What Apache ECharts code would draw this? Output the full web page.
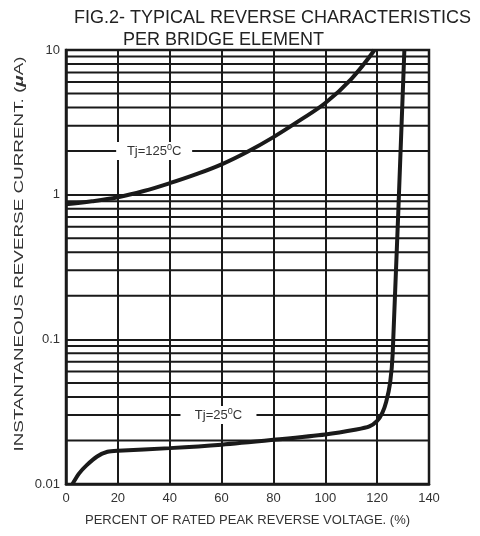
<!DOCTYPE html>
<html>
<head>
<meta charset="utf-8">
<script src="https://cdn.jsdelivr.net/npm/echarts@6/dist/echarts.min.js"></script>
<style>
  html, body { margin: 0; padding: 0; background: #fff; }
  #chart { width: 480px; height: 536px; }
</style>
</head>
<body>
<div id="chart"></div>
<script>
// x ticks / y tick labels
var xTicks = [0, 20, 40, 60, 80, 100, 120, 140];
var yTickLabels = ["0.01", "0.1", "1", "10"];

// Tj = 125 C curve  [percent, uA]
var hotX = [0, 10, 20, 30, 40, 50, 60, 70, 80, 90, 100, 110, 119];
var hotY = [0.86, 0.9, 0.96, 1.06, 1.2, 1.38, 1.62, 1.98, 2.5, 3.25, 4.3, 6.3, 10];

// Tj = 25 C curve
var coldX = [2.5, 5, 8, 12, 16, 20, 40, 60, 80, 100, 112, 117, 120, 122, 123.5, 125, 126, 130.5];
var coldY = [0.01, 0.0118, 0.0135, 0.0155, 0.0167, 0.017, 0.0177, 0.0187, 0.0202, 0.022, 0.0238, 0.025, 0.0273, 0.031, 0.037, 0.05, 0.08, 10];

// minor horizontal grid values (log paper)
var minorGrid = [0.02, 0.03, 0.04, 0.05, 0.06, 0.07, 0.08, 0.09,
                 0.2, 0.3, 0.4, 0.5, 0.6, 0.7, 0.8, 0.9,
                 2, 3, 4, 5, 6, 7, 8, 9];

// curve labels
var tagX = [34, 58.8];
var tagY = [2, 0.03];
var tagText = ["125", "25"];

var ink = "#1a1a1a";
var font = "Liberation Sans";

function zip(xs, ys) {
  return xs.map(function (x, i) { return [x, ys[i]]; });
}

var gridData = [];
minorGrid.forEach(function (v) {
  gridData.push([xTicks[0], v]);
  gridData.push([xTicks[xTicks.length - 1], v]);
  gridData.push("-");
});

var chart = echarts.init(document.getElementById("chart"));

chart.setOption({
  animation: false,
  textStyle: { fontFamily: font },
  title: [
    {
      text: "FIG.2- TYPICAL REVERSE CHARACTERISTICS",
      left: 69, top: 4,
      textStyle: { fontSize: 18, fontWeight: "normal", color: "#222", fontFamily: font }
    },
    {
      text: "PER BRIDGE ELEMENT",
      left: 118, top: 26,
      textStyle: { fontSize: 18, fontWeight: "normal", color: "#222", fontFamily: font }
    }
  ],
  // y axis title is stretched along its length in the original
  graphic: [
    {
      type: "text",
      x: 19, y: 254,
      rotation: Math.PI / 2,
      scaleX: 1.45,
      style: {
        text: "INSTANTANEOUS REVERSE CURRENT. ({mu|\u03bc}A)",
        fontSize: 13,
        fontFamily: font,
        fill: "#333",
        align: "center",
        verticalAlign: "middle",
        rich: {
          mu: { fontSize: 13, fontStyle: "italic", fontWeight: "bold", fill: "#333", fontFamily: font }
        }
      }
    }
  ],
  grid: {
    left: 66, right: 51, top: 50, bottom: 52,
    show: true, borderColor: ink, borderWidth: 2.5, backgroundColor: "#fff"
  },
  xAxis: {
    type: "value",
    min: 0, max: 140, interval: 20,
    name: "PERCENT OF RATED PEAK REVERSE VOLTAGE. (%)",
    nameLocation: "middle", nameGap: 30,
    nameTextStyle: { fontSize: 13, color: "#333" },
    axisLine: { show: true, lineStyle: { color: ink, width: 2.5 } },
    axisTick: { show: false },
    axisLabel: { fontSize: 13, color: "#333", margin: 8 },
    splitLine: { show: true, lineStyle: { color: ink, width: 2 } }
  },
  yAxis: {
    type: "log", logBase: 10,
    min: 0.01, max: 10,
    axisLine: { show: true, lineStyle: { color: ink, width: 2.5 } },
    axisTick: { show: false },
    axisLabel: {
      fontSize: 13, color: "#333", margin: 6,
      formatter: function (v) {
        var k = Math.round(Math.log10(v)) + 2;
        return yTickLabels[k] || "";
      }
    },
    splitLine: { show: true, lineStyle: { color: ink, width: 2 } }
  },
  series: [
    {
      name: "grid",
      type: "line",
      data: gridData,
      symbol: "none",
      silent: true,
      connectNulls: false,
      z: 1,
      lineStyle: { color: ink, width: 2 }
    },
    {
      name: "tags",
      type: "scatter",
      data: tagX.map(function (x, i) { return [x, tagY[i], tagText[i]]; }),
      symbol: "rect",
      symbolSize: [76, 18],
      itemStyle: { color: "#fff", opacity: 1 },
      silent: true,
      z: 2,
      label: {
        show: true,
        position: "inside",
        formatter: function (p) {
          return "{a|Tj=" + p.data[2] + "}{s|0}{a|C}";
        },
        rich: {
          a: { fontSize: 13, color: "#333" },
          s: { fontSize: 9, color: "#333", padding: [0, 0, 7, 0] }
        }
      }
    },
    {
      name: "Tj=125",
      type: "line",
      data: zip(hotX, hotY),
      symbol: "none",
      smooth: 0.4,
      z: 3,
      lineStyle: { color: ink, width: 4 }
    },
    {
      name: "Tj=25",
      type: "line",
      data: zip(coldX, coldY),
      symbol: "none",
      smooth: 0.25,
      z: 3,
      lineStyle: { color: ink, width: 4 }
    }
  ]
});
</script>
</body>
</html>
